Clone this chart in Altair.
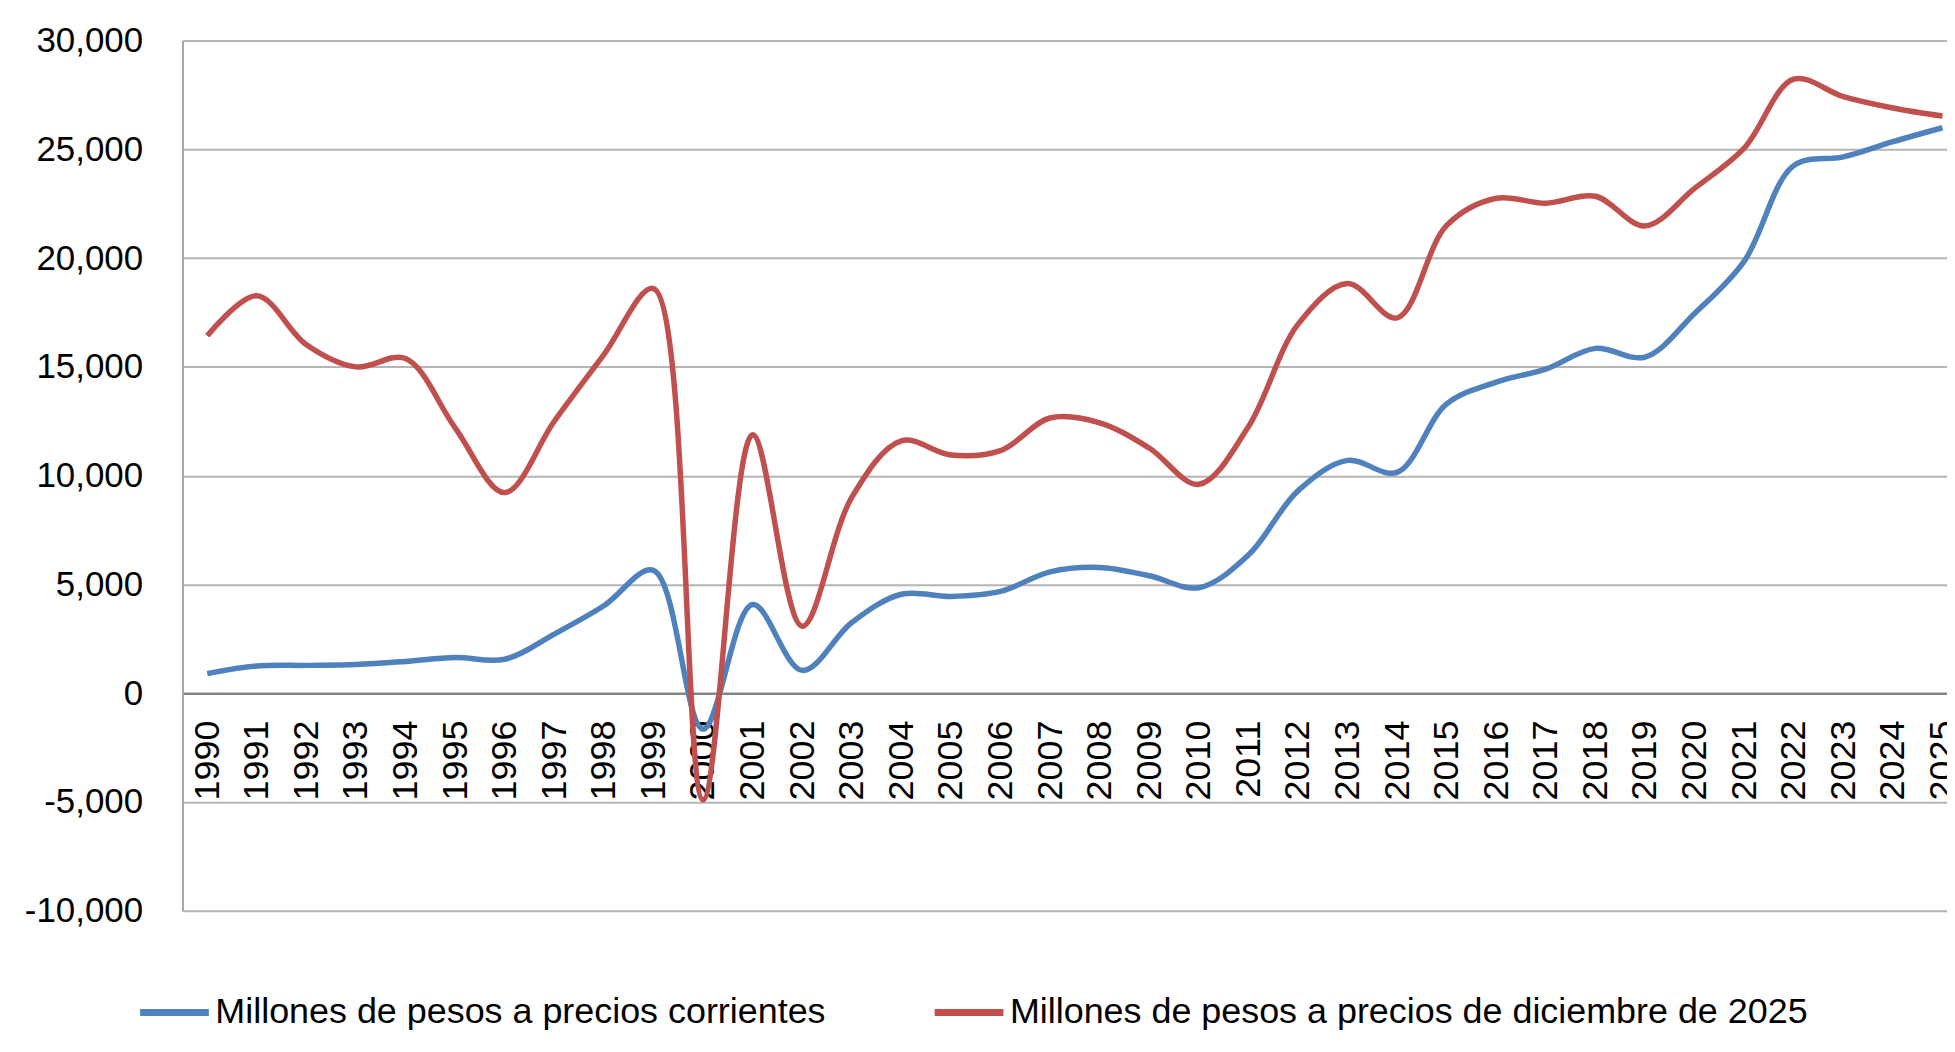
import altair as alt
import pandas as pd

years = list(range(1990, 2026))
serie_corrientes = "Millones de pesos a precios corrientes"
serie_diciembre = "Millones de pesos a precios de diciembre de 2025"

corrientes = [900, 1250, 1280, 1320, 1460, 1640, 1560, 2720, 4020, 5650,
              -1650, 4080, 1050, 3250, 4550, 4450, 4680, 5580, 5780, 5400,
              4850, 6350, 9300, 10700, 10150, 13300, 14300, 14900, 15850, 15450,
              17450, 19850, 24250, 24650, 25350, 25990]
diciembre = [16430, 18270, 16020, 15000, 15380, 12200, 9220, 12500, 15560, 18600,
             -4900, 11880, 3080, 9000, 11600, 10950, 11150, 12650, 12430, 11270,
             9600, 12250, 16950, 18830, 17250, 21500, 22750, 22520, 22840, 21480,
             23200, 25050, 28220, 27420, 26900, 26530]

y_ticks = list(range(-10000, 30001, 5000))

df = pd.DataFrame({
    "year": years * 2,
    "value": corrientes + diciembre,
    "serie": [serie_corrientes] * len(years) + [serie_diciembre] * len(years),
})

W = 1770
H = 873
YMIN, YMAX = -10000, 30000
step = 49.73
x_domain = [1989.5, 1989.5 + W / step]
zero_offset = -H * (0 - YMIN) / (YMAX - YMIN)

chart = alt.Chart(df).mark_line(interpolate="catmull-rom", strokeWidth=5.5).encode(
    x=alt.X("year:Q",
            scale=alt.Scale(domain=x_domain, nice=False, zero=False),
            axis=alt.Axis(values=years, format="d", labelAngle=270,
                          labelFont="Liberation Sans", labelFontSize=36,
                          labelColor="black", labelPadding=27,
                          ticks=False, tickSize=0, grid=False,
                          domainColor="#868686", domainWidth=2.5,
                          offset=zero_offset, labelFlush=False,
                          labelOverlap=False, title=None)),
    y=alt.Y("value:Q",
            scale=alt.Scale(domain=[YMIN, YMAX], nice=False),
            axis=alt.Axis(values=y_ticks,
                          labelExpr="(datum.value < 0 ? '-' : '') + format(abs(datum.value), ',')",
                          labelFont="Liberation Sans", labelFontSize=35,
                          labelColor="black", labelPadding=40,
                          ticks=False, tickSize=0,
                          domainColor="#a6a6a6", domainWidth=2,
                          grid=True, gridColor="#b5b5b5", gridWidth=2,
                          title=None)),
    color=alt.Color("serie:N",
                    scale=alt.Scale(domain=[serie_corrientes, serie_diciembre],
                                    range=["#4F81BD", "#C0504D"]),
                    legend=alt.Legend(orient="none", legendX=-46, legendY=937,
                                      direction="horizontal", title=None,
                                      symbolType="stroke", symbolSize=4761,
                                      symbolStrokeWidth=7, labelFontSize=36,
                                      labelFont="Liberation Sans", labelColor="black",
                                      labelLimit=0, labelOffset=3,
                                      columnPadding=94, padding=0)),
).properties(
    width=W, height=H,
    autosize=alt.AutoSizeParams(type="none"),
    padding={"left": 175, "top": 31, "right": 0, "bottom": 124},
).configure_view(stroke=None).configure(background="white")

chart.save("out.html", embed_options={"renderer": "svg", "actions": False})
